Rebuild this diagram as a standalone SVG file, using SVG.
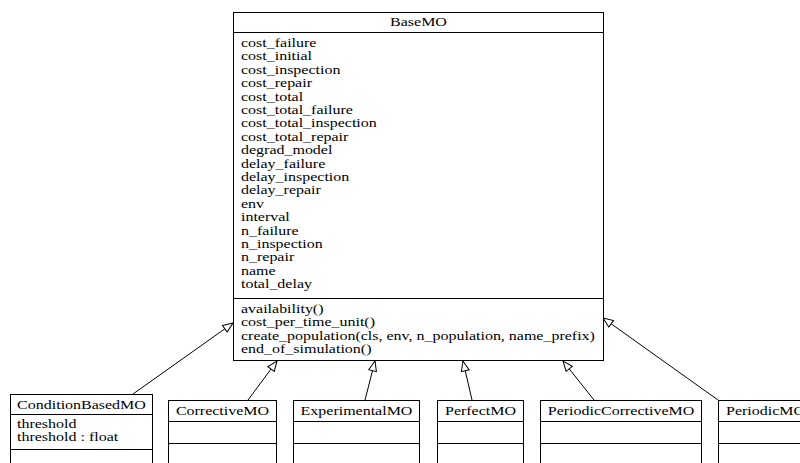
<svg xmlns="http://www.w3.org/2000/svg" width="800" height="463" viewBox="0 0 800 463">
<style>
.b { fill: #fff; stroke: #000; stroke-width: 1; }
.s { fill: none; stroke: #000; stroke-width: 1; }
text { font-family: "Liberation Serif", "Times New Roman", serif; font-size: 13px; fill: #000; }
.t { text-anchor: middle; }
.e { stroke: #000; stroke-width: 1; fill: none; }
</style>
<defs>
<marker id="tri" viewBox="0 0 12 10" refX="11" refY="5" markerWidth="12" markerHeight="10" markerUnits="userSpaceOnUse" orient="auto">
<path d="M1,1 L11,5 L1,9 Z" fill="#fff" stroke="#000" stroke-width="1"/>
</marker>
</defs>
<rect width="800" height="463" fill="#fff"/>
<g id="connectors">
<line class="e" x1="133" y1="394" x2="233" y2="323" marker-end="url(#tri)"/>
<line class="e" x1="248" y1="400" x2="277" y2="361" marker-end="url(#tri)"/>
<line class="e" x1="365" y1="400" x2="375" y2="361" marker-end="url(#tri)"/>
<line class="e" x1="472" y1="400" x2="463" y2="361" marker-end="url(#tri)"/>
<line class="e" x1="594" y1="400" x2="563" y2="361" marker-end="url(#tri)"/>
<line class="e" x1="718" y1="400" x2="603" y2="318" marker-end="url(#tri)"/>
</g>
<g id="BaseMO">
<rect class="b" x="233.5" y="12.5" width="370" height="348"/>
<line class="s" x1="233.5" y1="32.5" x2="603.5" y2="32.5"/>
<line class="s" x1="233.5" y1="298.5" x2="603.5" y2="298.5"/>
<g transform="matrix(1.23 0 0 1 -96.26 0)"><text class="t" x="418.5" y="26">BaseMO</text></g>
<g transform="matrix(1.23 0 0 1 -55.43 0)">
<text x="241" y="47">cost_failure</text>
<text x="241" y="60.4">cost_initial</text>
<text x="241" y="73.8">cost_inspection</text>
<text x="241" y="87.2">cost_repair</text>
<text x="241" y="100.6">cost_total</text>
<text x="241" y="114">cost_total_failure</text>
<text x="241" y="127.4">cost_total_inspection</text>
<text x="241" y="140.8">cost_total_repair</text>
<text x="241" y="154.2">degrad_model</text>
<text x="241" y="167.6">delay_failure</text>
<text x="241" y="181">delay_inspection</text>
<text x="241" y="194.4">delay_repair</text>
<text x="241" y="207.8">env</text>
<text x="241" y="221.2">interval</text>
<text x="241" y="234.6">n_failure</text>
<text x="241" y="248">n_inspection</text>
<text x="241" y="261.4">n_repair</text>
<text x="241" y="274.8">name</text>
<text x="241" y="288.2">total_delay</text>
<text x="241" y="313">availability()</text>
<text x="241" y="326.3">cost_per_time_unit()</text>
<text x="241" y="339.6">create_population(cls, env, n_population, name_prefix)</text>
<text x="241" y="353">end_of_simulation()</text>
</g>
</g>
<g id="ConditionBasedMO">
<rect class="b" x="10.5" y="394.5" width="142" height="80"/>
<line class="s" x1="10.5" y1="414.5" x2="152.5" y2="414.5"/>
<line class="s" x1="10.5" y1="449.5" x2="152.5" y2="449.5"/>
<g transform="matrix(1.23 0 0 1 -18.75 0)"><text class="t" x="81.5" y="409">ConditionBasedMO</text></g>
<g transform="matrix(1.23 0 0 1 -3.91 0)">
<text x="17" y="428">threshold</text>
<text x="17" y="441.5">threshold : float</text>
</g>
</g>
<g id="CorrectiveMO">
<rect class="b" x="168.5" y="400.5" width="108" height="80"/>
<line class="s" x1="168.5" y1="421.5" x2="276.5" y2="421.5"/>
<line class="s" x1="168.5" y1="443.5" x2="276.5" y2="443.5"/>
<g transform="matrix(1.23 0 0 1 -51.18 0)"><text class="t" x="222.5" y="415">CorrectiveMO</text></g>
</g>
<g id="ExperimentalMO">
<rect class="b" x="293.5" y="400.5" width="126" height="80"/>
<line class="s" x1="293.5" y1="421.5" x2="419.5" y2="421.5"/>
<line class="s" x1="293.5" y1="443.5" x2="419.5" y2="443.5"/>
<g transform="matrix(1.23 0 0 1 -82 0)"><text class="t" x="356.5" y="415">ExperimentalMO</text></g>
</g>
<g id="PerfectMO">
<rect class="b" x="437.5" y="400.5" width="86" height="80"/>
<line class="s" x1="437.5" y1="421.5" x2="523.5" y2="421.5"/>
<line class="s" x1="437.5" y1="443.5" x2="523.5" y2="443.5"/>
<g transform="matrix(1.23 0 0 1 -110.5 0)"><text class="t" x="480.5" y="415">PerfectMO</text></g>
</g>
<g id="PeriodicCorrectiveMO">
<rect class="b" x="540.5" y="400.5" width="161" height="80"/>
<line class="s" x1="540.5" y1="421.5" x2="701.5" y2="421.5"/>
<line class="s" x1="540.5" y1="443.5" x2="701.5" y2="443.5"/>
<g transform="matrix(1.23 0 0 1 -142.83 0)"><text class="t" x="621" y="415">PeriodicCorrectiveMO</text></g>
</g>
<g id="PeriodicMO">
<rect class="b" x="718.5" y="400.5" width="100" height="80"/>
<line class="s" x1="718.5" y1="421.5" x2="818.5" y2="421.5"/>
<line class="s" x1="718.5" y1="443.5" x2="818.5" y2="443.5"/>
<g transform="matrix(1.23 0 0 1 -166.98 0)"><text x="726" y="415">PeriodicMO</text></g>
</g>
</svg>
